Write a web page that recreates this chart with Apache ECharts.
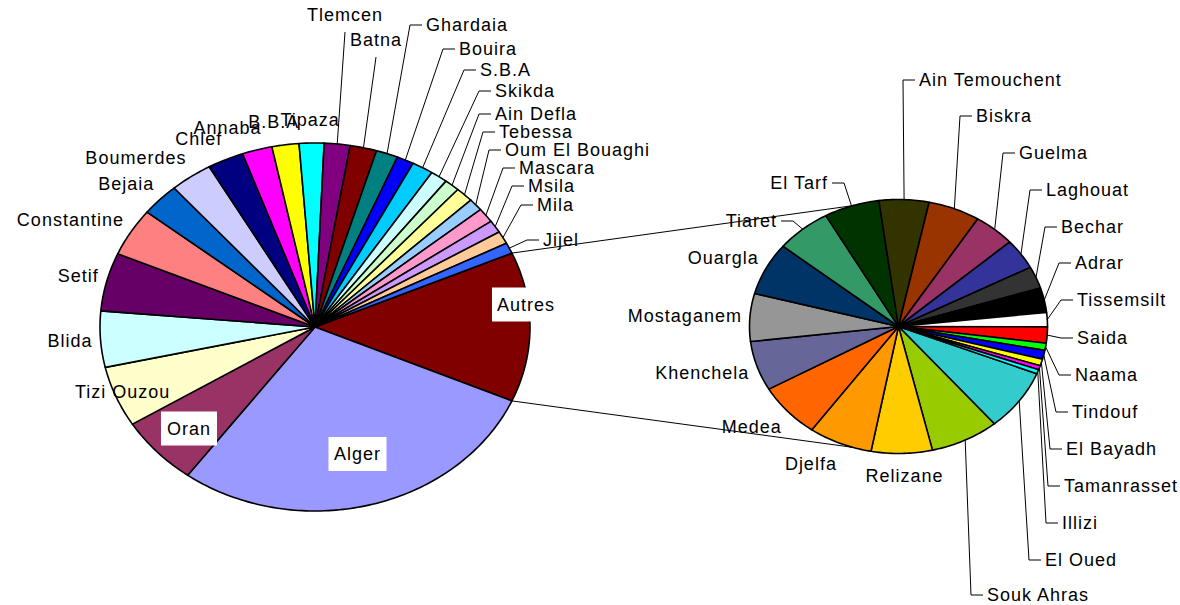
<!DOCTYPE html>
<html>
<head>
<meta charset="utf-8">
<script src="https://cdn.jsdelivr.net/npm/echarts@6/dist/echarts.min.js"></script>
<style>
html,body{margin:0;padding:0;background:#fff}
#chart{width:1180px;height:605px}
#chart text{letter-spacing:1px}
</style>
</head>
<body>
<div id="chart"></div>
<script>
// ---------------- DATA ----------------
const mainNames = ['Alger','Oran','Tizi Ouzou','Blida','Setif','Constantine','Bejaia','Boumerdes','Chlef','Annaba','B.B.A','Tipaza','Tlemcen','Batna','Ghardaia','Bouira','S.B.A','Skikda','Ain Defla','Tebessa','Oum El Bouaghi','Mascara','Msila','Mila','Jijel'];
const mainValues = [2850,606,533,492,511,422,289,319,272,225,203,186,194,200,164,128,161,128,114,133,108,128,111,111,94];
const subNames = ['El Oued','Souk Ahras','Relizane','Djelfa','Medea','Khenchela','Mostaganem','Ouargla','Tiaret','El Tarf','Ain Temouchent','Biskra','Guelma','Laghouat','Bechar','Adrar','Tissemsilt','Saida','Naama','Tindouf','El Bayadh','Tamanrasset','Illizi'];
const subValues = [103,98,87,91,91,83,80,88,79,79,71,74,59,51,37,41,24,27,12,15,11,7,7];
const otherName = 'Autres';

// ---------------- STYLE ----------------
const mainColors = ['#9999FF','#993366','#FFFFCC','#CCFFFF','#660066','#FF8080','#0066CC','#CCCCFF','#000080','#FF00FF','#FFFF00','#00FFFF','#800080','#800000','#008080','#0000FF','#00CCFF','#CCFFFF','#CCFFCC','#FFFF99','#99CCFF','#FF99CC','#CC99FF','#FFCC99','#3366FF'];
const subColors = ['#33CCCC','#99CC00','#FFCC00','#FF9900','#FF6600','#666699','#969696','#003366','#339966','#003300','#333300','#993300','#993366','#333399','#333333','#000000','#FFFFFF','#FF0000','#00FF00','#0000FF','#FFFF00','#FF00FF','#00FFFF'];
const otherColor = '#800000';

// ---------------- LAYOUT ----------------
const MAIN = {cx:315, cy:327, rx:215, ry:184};
const SUB = {cx:898.5, cy:326.5, rx:149, ry:127};
const SUB_START = 21.8;      // degrees, clockwise from 3 o'clock
const LINK_ANGLE = 108;      // connectors meet the second pie at +/- this angle
const FONT_FAMILY = "'Liberation Sans', Arial, sans-serif";
const FONT_SIZE = 18;
const LETTER_SP = 1;

// labels that were moved by hand (x = left edge unless 'right', y = middle)
const movedLabels = {
  'Tlemcen':[307,15], 'Batna':[350,40], 'Ghardaia':[426,25], 'Bouira':[459,49],
  'S.B.A':[480,70], 'Skikda':[495,91], 'Ain Defla':[495,114], 'Tebessa':[499,132],
  'Oum El Bouaghi':[505,150], 'Mascara':[519,168], 'Msila':[528,186], 'Mila':[537,205],
  'Jijel':[543,240], 'Tizi Ouzou':[75,392,'left',false],
  'Ain Temouchent':[919,80], 'Biskra':[976,116], 'Guelma':[1019,153], 'Laghouat':[1046,190],
  'Bechar':[1061,227], 'Adrar':[1075,263], 'Tissemsilt':[1077,300], 'Saida':[1077,338],
  'Naama':[1075,375], 'Tindouf':[1072,412], 'El Bayadh':[1066,449], 'Tamanrasset':[1064,486],
  'Illizi':[1062,523], 'El Oued':[1045,560], 'Souk Ahras':[987,595],
  'Tiaret':[777,221,'right'], 'El Tarf':[828,183,'right']
};
const boxLabels = {'Alger':[357.5,454], 'Oran':[189,428.5], 'Autres':[526,304.5]};

// ---------------- HELPERS ----------------
const measure = (function(){
  const ctx = document.createElement('canvas').getContext('2d');
  ctx.font = FONT_SIZE + 'px ' + FONT_FAMILY;
  return t => ctx.measureText(t).width + LETTER_SP * t.length;
})();
const sum = a => a.reduce((s, v) => s + v, 0);
function spans(values, startDeg){
  const tot = sum(values); let a = startDeg;
  return values.map(v => { const s = a; a += v / tot * 360; return [s, a]; });
}
function pt(g, deg, dr){
  dr = dr || 0; const t = deg * Math.PI / 180;
  return [g.cx + (g.rx + dr) * Math.cos(t), g.cy + (g.ry + dr) * Math.sin(t)];
}
function sectorPts(g, a0, a1){
  const pts = [[g.cx, g.cy]];
  const n = Math.max(2, Math.ceil(Math.abs(a1 - a0)));
  for (let i = 0; i <= n; i++) pts.push(pt(g, a0 + (a1 - a0) * i / n));
  return pts;
}
function textEl(text, x, y, align, box){
  const style = {text, fill:'#000', fontSize:FONT_SIZE, fontFamily:FONT_FAMILY, align, verticalAlign:'middle'};
  if (box) Object.assign(style, {backgroundColor:'#fff', padding:[7,8], lineHeight:20});
  return {type:'text', x, y, style, z2:30};
}
function lineEl(points){
  return {type:'polyline', shape:{points}, style:{stroke:'#000', lineWidth:1, fill:null}, z2:20};
}
function labelEls(g, name, mid){
  const anchor = pt(g, mid);
  if (boxLabels[name]) { const b = boxLabels[name]; return [textEl(name, b[0], b[1], 'center', true)]; }
  const mv = movedLabels[name];
  if (mv) {
    const x = mv[0], y = mv[1], align = mv[2] || 'left', leader = mv[3] !== false;
    const w = measure(name);
    const left = align === 'right' ? x - w : x, right = left + w;
    const els = [textEl(name, x, y, align)];
    if (leader) {
      let p;
      if (anchor[0] >= left && anchor[0] <= right && anchor[1] > y) p = [[(left + right) / 2, y + 17], anchor];
      else if (anchor[0] < left) p = [[left - 4, y], [left - 16, y], anchor];
      else p = [[right + 4, y], [right + 16, y], anchor];
      els.push(lineEl(p));
    }
    return els;
  }
  const t = mid * Math.PI / 180, c = Math.cos(t), s = Math.sin(t);
  const P = pt(g, mid, 8);
  const w = measure(name);
  const kx = Math.sign(c) * Math.min(1, 3 * Math.abs(c));
  return [textEl(name, P[0] + kx * w / 2, P[1] + 15 * s, 'center')];
}

// ---------------- BUILD ----------------
const otherValue = sum(subValues);
const mainAllNames = [otherName].concat(mainNames);
const mainAllValues = [otherValue].concat(mainValues);
const mainAllColors = [otherColor].concat(mainColors);
const otherDeg = otherValue / sum(mainAllValues) * 360;
const mainSpans = spans(mainAllValues, -otherDeg / 2);
const subSpans = spans(subValues, SUB_START);

function makeRender(g, names, colors, withLinks){
  return function(params, api){
    const i = params.dataIndex;
    const a0 = api.value(1), a1 = api.value(2);
    const children = [{
      type:'polygon', shape:{points:sectorPts(g, a0, a1)},
      style:{fill:colors[i], stroke:'#000', lineWidth:1.6, lineJoin:'round'}, z2:1
    }];
    labelEls(g, names[i], (a0 + a1) / 2).forEach(e => children.push(e));
    if (withLinks && i === 0) {
      children.push(lineEl([pt(g, a0), pt(SUB, 360 - LINK_ANGLE)]));
      children.push(lineEl([pt(g, a1), pt(SUB, LINK_ANGLE)]));
    }
    return {type:'group', children};
  };
}

const mainData = mainAllNames.map((n, i) => ({name:n, value:[mainAllValues[i], mainSpans[i][0], mainSpans[i][1]]}));
const subData = subNames.map((n, i) => ({name:n, value:[subValues[i], subSpans[i][0], subSpans[i][1]]}));

const chart = echarts.init(document.getElementById('chart'), null, {renderer:'svg'});
chart.setOption({
  backgroundColor:'#fff',
  animation:false,
  series:[
    {type:'custom', coordinateSystem:'none', silent:true, renderItem:makeRender(MAIN, mainAllNames, mainAllColors, true), data:mainData},
    {type:'custom', coordinateSystem:'none', silent:true, renderItem:makeRender(SUB, subNames, subColors, false), data:subData}
  ]
});
</script>
</body>
</html>
